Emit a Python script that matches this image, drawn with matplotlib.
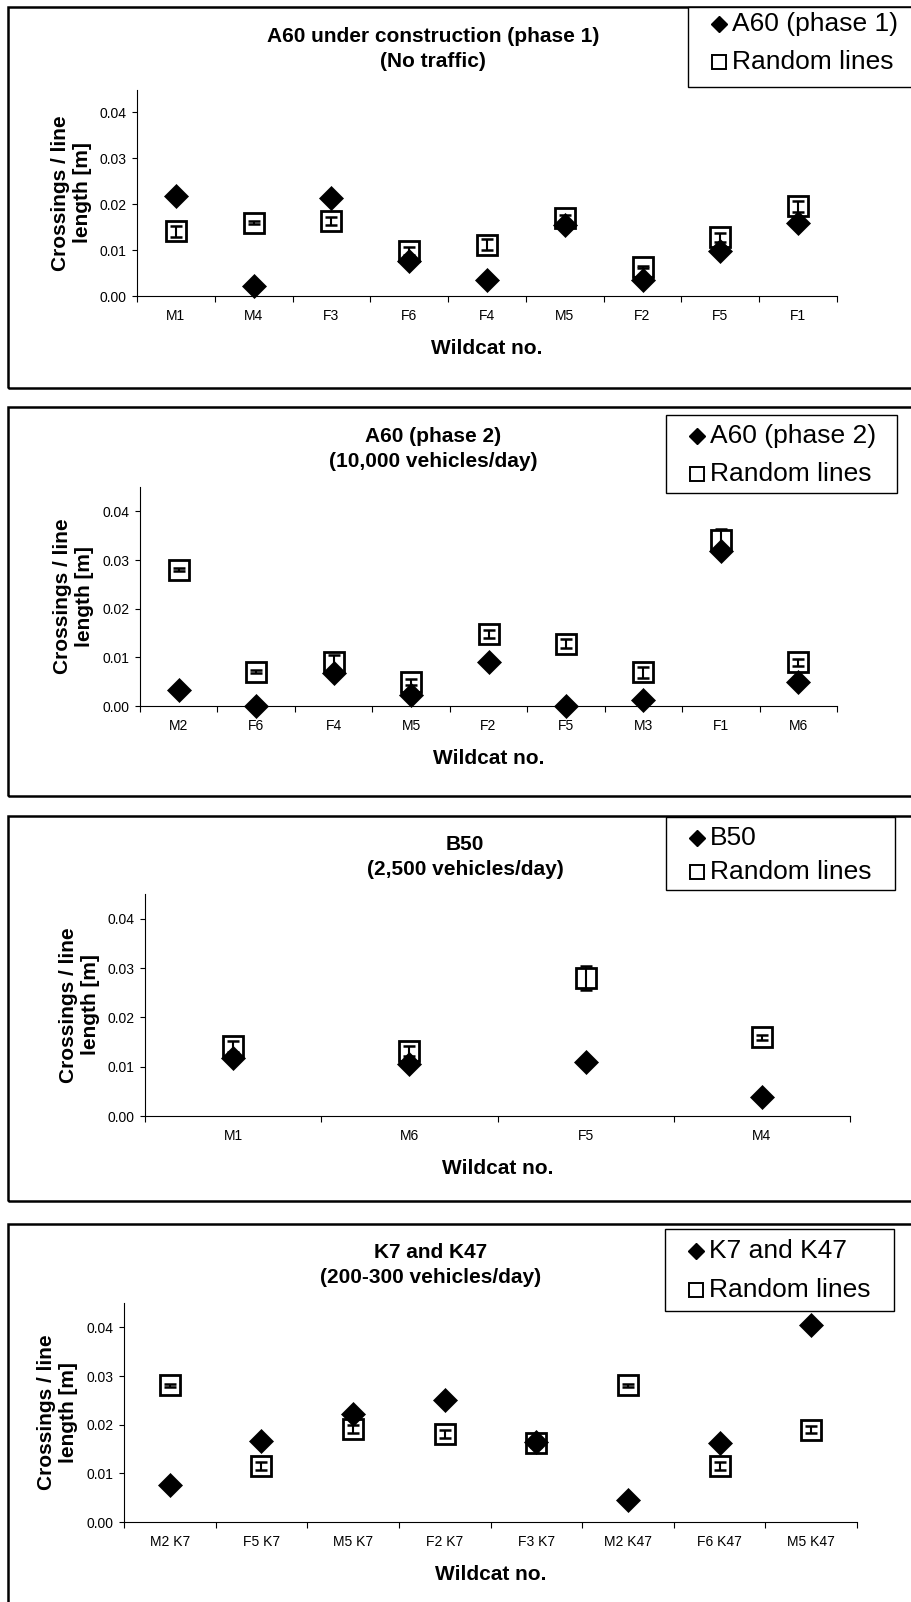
import numpy as np
import matplotlib
matplotlib.use("Agg")
import matplotlib.pyplot as plt
from matplotlib.patches import Rectangle
from matplotlib.lines import Line2D

plt.rcParams['font.family'] = ['Liberation Sans', 'DejaVu Sans']

W, H = 911, 1602

# ---- data ----
cats1 = ['M1', 'M4', 'F3', 'F6', 'F4', 'M5', 'F2', 'F5', 'F1']
road1 = [0.0218, 0.0022, 0.0214, 0.0077, 0.0035, 0.0155, 0.0035, 0.0098, 0.0160]
rand1 = [0.0141, 0.0160, 0.0164, 0.0098, 0.0112, 0.0170, 0.0063, 0.0128, 0.0196]
err1 = [0.0012, 0.0004, 0.0009, 0.0008, 0.0012, 0.0007, 0.0002, 0.0010, 0.0012]

cats2 = ['M2', 'F6', 'F4', 'M5', 'F2', 'F5', 'M3', 'F1', 'M6']
road2 = [0.0032, 0.0, 0.0067, 0.0023, 0.0091, 0.0, 0.0013, 0.0319, 0.0050]
rand2 = [0.0280, 0.0070, 0.0091, 0.0050, 0.0148, 0.0128, 0.0069, 0.0341, 0.0090]
err2 = [0.0003, 0.0003, 0.0014, 0.0006, 0.0009, 0.0009, 0.0011, 0.0023, 0.0007]

cats3 = ['M1', 'M6', 'F5', 'M4']
road3 = [0.0118, 0.0106, 0.0110, 0.0039]
rand3 = [0.0141, 0.0131, 0.0280, 0.0160]
err3 = [0.0012, 0.0010, 0.0024, 0.0005]

cats4 = ['M2 K7', 'F5 K7', 'M5 K7', 'F2 K7', 'F3 K7', 'M2 K47', 'F6 K47', 'M5 K47']
road4 = [0.0076, 0.0167, 0.0222, 0.0250, 0.0165, 0.0045, 0.0163, 0.0405]
rand4 = [0.0281, 0.0115, 0.0191, 0.0181, 0.0163, 0.0281, 0.0115, 0.0190]
err4 = [0.0003, 0.0008, 0.0009, 0.0009, 0.0008, 0.0003, 0.0008, 0.0007]

titles = ['A60 under construction (phase 1)\n(No traffic)',
          'A60 (phase 2)\n(10,000 vehicles/day)',
          'B50\n(2,500 vehicles/day)',
          'K7 and K47\n(200-300 vehicles/day)']
road_names = ['A60 (phase 1)', 'A60 (phase 2)', 'B50', 'K7 and K47']

# ---- layout in pixels ----
# frame (top, bottom), axes (left, right, top, bottom), title (x, y),
# legend box (l, r, t, b), legend rows (y1, y2)
frames = [(7, 388), (407, 796), (816, 1201), (1224, 1640)]
axpos = [(137, 837, 89.5, 296), (140, 837, 487, 706),
         (145, 850, 894, 1116), (124, 857, 1303, 1522)]
tpos = [(433, 49), (433, 449), (465, 857), (431, 1265)]
legbox = [(688, 940, 7, 87), (666, 897, 415, 493),
          (666, 895, 817, 890), (665, 894, 1229, 1311)]
legrows = [(24, 62), (436, 474), (838, 872), (1251, 1290)]

fig = plt.figure(figsize=(W / 100, H / 100), dpi=100)


def fx(x):
    return x / W


def fy(y):
    return 1 - y / H


def draw_panel(i, cats, road, rand, err):
    ft, fb = frames[i]
    fig.patches.append(Rectangle((fx(8), fy(fb)), fx(940 - 8), (fb - ft) / H,
                                 transform=fig.transFigure, fill=False,
                                 edgecolor='black', linewidth=1.8))
    l, r, t, b = axpos[i]
    ax = fig.add_axes([fx(l), fy(b), fx(r - l), (b - t) / H])
    x = np.arange(len(cats))
    # random lines: open squares with the error bar drawn inside
    ax.plot(x, rand, 's', ms=15, mfc='white', mec='black', mew=2.0, zorder=3)
    ax.errorbar(x, rand, yerr=err, fmt='none', ecolor='black',
                elinewidth=1.5, capsize=4.5, capthick=1.8, zorder=3.5)
    ax.plot(x, road, 'D', ms=12, color='black', mew=0.5, zorder=4,
            clip_on=False)
    ax.set_xlim(-0.5, len(cats) - 0.5)
    ax.set_ylim(0, 0.045)
    ax.set_yticks([0, 0.01, 0.02, 0.03, 0.04])
    ax.set_yticklabels(['%.2f' % v for v in [0, 0.01, 0.02, 0.03, 0.04]])
    ax.set_xticks(x)
    ax.set_xticklabels(cats)
    ax.set_xticks(np.arange(len(cats) + 1) - 0.5, minor=True)
    ax.tick_params(axis='x', which='major', length=0, pad=9, labelsize=10)
    ax.tick_params(axis='x', which='minor', length=4, width=0.8)
    ax.tick_params(axis='y', length=3.5, width=0.8, pad=4, labelsize=10)
    for s in ['top', 'right']:
        ax.spines[s].set_visible(False)
    for s in ['left', 'bottom']:
        ax.spines[s].set_linewidth(0.8)

    # title, axis labels
    tx, ty = tpos[i]
    fig.text(fx(tx), fy(ty), titles[i], ha='center', va='center',
             fontsize=15, fontweight='bold', linespacing=1.35)
    fig.text(fx(l - 66), fy((t + b) / 2), 'Crossings / line\nlength [m]',
             rotation=90, ha='center', va='center', multialignment='center',
             fontsize=15, fontweight='bold', linespacing=1.2)
    fig.text(fx((l + r) / 2), fy(b + 52), 'Wildcat no.', ha='center',
             va='center', fontsize=15, fontweight='bold')

    # legend box
    bl, br, bt, bb = legbox[i]
    fig.patches.append(Rectangle((fx(bl), fy(bb)), fx(br - bl), (bb - bt) / H,
                                 transform=fig.transFigure, facecolor='white',
                                 edgecolor='black', linewidth=1.0, zorder=5))
    y1, y2 = legrows[i]
    fig.lines.append(Line2D([fx(bl + 31)], [fy(y1)], marker='D', ms=8.5,
                            color='black', linestyle='none',
                            transform=fig.transFigure, zorder=6))
    fig.lines.append(Line2D([fx(bl + 31)], [fy(y2)], marker='s', ms=9.5,
                            mfc='white', mec='black', mew=1.4, linestyle='none',
                            transform=fig.transFigure, zorder=6))
    fig.text(fx(bl + 44), fy(y1), road_names[i], ha='left', va='center',
             fontsize=19, zorder=7)
    fig.text(fx(bl + 44), fy(y2), 'Random lines', ha='left', va='center',
             fontsize=19, zorder=7)


draw_panel(0, cats1, road1, rand1, err1)
draw_panel(1, cats2, road2, rand2, err2)
draw_panel(2, cats3, road3, rand3, err3)
draw_panel(3, cats4, road4, rand4, err4)

fig.savefig('out.png', dpi=100)
